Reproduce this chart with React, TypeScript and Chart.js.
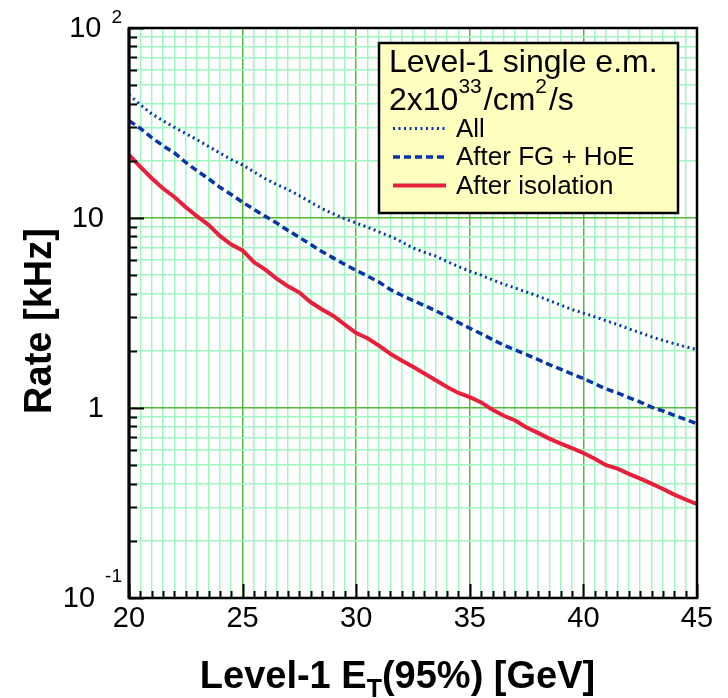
import React, { useEffect, useRef } from 'react';
import { Chart, registerables } from 'chart.js';

Chart.register(...registerables);

// Transverse energy threshold points [GeV]
const ET = [
  20, 20.5, 21, 21.5, 22, 22.5, 23, 23.5, 24, 24.5,
  25, 25.5, 26, 26.5, 27, 27.5, 28, 28.5, 29, 29.5,
  30, 30.5, 31, 31.5, 32, 32.5, 33, 33.5, 34, 34.5,
  35, 35.5, 36, 36.5, 37, 37.5, 38, 38.5, 39, 39.5,
  40, 40.5, 41, 41.5, 42, 42.5, 43, 43.5, 44, 44.5, 45,
];

// Level-1 single e.m. rates [kHz]
const rateAll = [
  44.5, 39.5, 35.3, 32.5, 30.0, 27.8, 25.8, 23.8, 22.0, 20.3,
  19.0, 17.5, 16.1, 15.0, 14.1, 13.1, 12.1, 11.2, 10.5, 9.9,
  9.4, 8.95, 8.45, 8.0, 7.5, 6.95, 6.6, 6.3, 5.9, 5.55,
  5.25, 5.0, 4.72, 4.48, 4.28, 4.08, 3.88, 3.68, 3.48, 3.3,
  3.16, 3.02, 2.88, 2.75, 2.61, 2.49, 2.37, 2.27, 2.18, 2.1, 2.03,
];

const rateFgHoe = [
  32.5, 29.6, 26.5, 24.0, 22.0, 19.6, 17.7, 16.1, 14.5, 13.3,
  12.1, 11.1, 10.2, 9.4, 8.6, 7.9, 7.25, 6.65, 6.15, 5.7,
  5.3, 4.95, 4.6, 4.2, 3.92, 3.68, 3.46, 3.25, 3.03, 2.82,
  2.63, 2.46, 2.29, 2.14, 2.02, 1.91, 1.80, 1.69, 1.60, 1.51,
  1.43, 1.34, 1.26, 1.20, 1.135, 1.075, 1.01, 0.965, 0.915, 0.87, 0.825,
];

const rateIsolation = [
  21.5, 18.6, 16.2, 14.3, 12.9, 11.4, 10.2, 9.2, 8.05, 7.25,
  6.75, 5.85, 5.35, 4.8, 4.37, 4.05, 3.6, 3.3, 3.05, 2.75,
  2.48, 2.33, 2.13, 1.93, 1.78, 1.65, 1.52, 1.40, 1.29, 1.20,
  1.14, 1.07, 0.98, 0.91, 0.86, 0.79, 0.74, 0.69, 0.65, 0.615,
  0.58, 0.54, 0.50, 0.48, 0.45, 0.425, 0.40, 0.375, 0.35, 0.33, 0.312,
];

const seriesLabels = ['All', 'After FG + HoE', 'After isolation'];

// Axis labelling
const xTickValues = [20, 25, 30, 35, 40, 45];
const xTickLabels = ['20', '25', '30', '35', '40', '45'];
const yTickValues = [0.1, 1, 10, 100];
const yTickBases = ['10', '1', '10', '10'];
const yTickExponents = ['-1', '', '', '2'];

const legendTitle = 'Level-1 single e.m.';
const luminosityParts = ['2x10', '33', '/cm', '2', '/s'];

const FONT = '"Liberation Sans", Arial, Helvetica, sans-serif';
const GRID_MINOR = '#9ff7c2';
const GRID_MAJOR = '#55b83c';
const BLUE = '#0835a8';
const RED = '#e8203c';

const isDecade = (v: number) =>
  Math.abs(Math.log10(v) - Math.round(Math.log10(v))) < 1e-6;
const isFive = (v: number) => Math.abs(v / 5 - Math.round(v / 5)) < 1e-6;

// grid positions: every 0.5 GeV, and 1..9 per decade
const xGrid: number[] = [];
for (let i = 0; i <= 50; i++) xGrid.push(20 + i * 0.5);
const yGrid: number[] = [];
for (let e = -1; e <= 1; e++) for (let s = 1; s <= 9; s++) yGrid.push(+(s * Math.pow(10, e)).toPrecision(6));
yGrid.push(100);

const decorations = {
  id: 'decorations',
  afterDatasetsDraw(chart: any) {
    const { ctx, chartArea: a } = chart;
    const x = chart.scales.x;
    const y = chart.scales.y;
    ctx.save();

    // inward tick marks
    ctx.strokeStyle = '#000';
    ctx.lineWidth = 2;
    xGrid.forEach((v) => {
      const px = Math.round(x.getPixelForValue(v)) + 0.5;
      const len = isFive(v) ? 14 : 7;
      ctx.beginPath();
      ctx.moveTo(px, a.bottom);
      ctx.lineTo(px, a.bottom - len);
      ctx.stroke();
    });
    yGrid.forEach((v) => {
      const py = Math.round(y.getPixelForValue(v)) + 0.5;
      const len = isDecade(v) ? 15 : 8;
      ctx.beginPath();
      ctx.moveTo(a.left, py);
      ctx.lineTo(a.left + len, py);
      ctx.stroke();
    });

    // frame
    ctx.lineWidth = 2.5;
    ctx.strokeRect(a.left, a.top, a.right - a.left, a.bottom - a.top);
    ctx.lineWidth = 3;
    ctx.beginPath();
    ctx.moveTo(a.left, a.top);
    ctx.lineTo(a.left, a.bottom);
    ctx.stroke();

    // x tick labels
    ctx.fillStyle = '#000';
    ctx.font = `29px ${FONT}`;
    ctx.textAlign = 'center';
    ctx.textBaseline = 'middle';
    xTickValues.forEach((v, i) => {
      ctx.fillText(xTickLabels[i], x.getPixelForValue(v), a.bottom + 21);
    });

    // y tick labels (powers of ten with exponents)
    yTickValues.forEach((v, i) => {
      const py = y.getPixelForValue(v);
      const exp = yTickExponents[i];
      let right = 104;
      if (exp) {
        ctx.font = `19px ${FONT}`;
        ctx.textAlign = 'right';
        ctx.textBaseline = 'alphabetic';
        const ew = ctx.measureText(exp).width;
        ctx.fillText(exp, 122, Math.max(py - 16, 23));
        right = 122 - ew - 10;
      }
      ctx.font = `29px ${FONT}`;
      ctx.textAlign = 'right';
      ctx.textBaseline = 'middle';
      ctx.fillText(yTickBases[i], right, py + 1);
    });

    // y axis title
    ctx.save();
    ctx.translate(50.5, 321);
    ctx.rotate(-Math.PI / 2);
    ctx.font = `bold 38px ${FONT}`;
    ctx.textAlign = 'center';
    ctx.textBaseline = 'alphabetic';
    ctx.fillText('Rate [kHz]', 0, 0);
    ctx.restore();

    // x axis title with subscript T
    const big = `bold 38px ${FONT}`;
    const small = `bold 25px ${FONT}`;
    const p1 = 'Level-1 E';
    const p2 = 'T';
    const p3 = '(95%) [GeV]';
    ctx.font = big;
    const w1 = ctx.measureText(p1).width;
    const w3 = ctx.measureText(p3).width;
    ctx.font = small;
    const w2 = ctx.measureText(p2).width;
    const total = w1 + w2 + w3;
    let tx = 397.5 - total / 2;
    const base = 688;
    ctx.textAlign = 'left';
    ctx.textBaseline = 'alphabetic';
    ctx.font = big;
    ctx.fillText(p1, tx, base);
    tx += w1;
    ctx.font = small;
    ctx.fillText(p2, tx, base + 9);
    tx += w2;
    ctx.font = big;
    ctx.fillText(p3, tx, base);

    // legend box
    const bx = 379, by = 43, bw = 299, bh = 170;
    ctx.fillStyle = '#ffffc0';
    ctx.fillRect(bx, by, bw, bh);
    ctx.lineWidth = 2.5;
    ctx.strokeStyle = '#000';
    ctx.strokeRect(bx, by, bw, bh);

    ctx.fillStyle = '#000';
    ctx.textAlign = 'left';
    ctx.textBaseline = 'alphabetic';
    ctx.font = `32px ${FONT}`;
    ctx.fillText(legendTitle, 389, 72);

    // luminosity line: 2x10^33/cm^2/s
    let lx = 389;
    luminosityParts.forEach((part, i) => {
      const sup = i % 2 === 1;
      ctx.font = sup ? `21px ${FONT}` : `32px ${FONT}`;
      ctx.fillText(part, lx, sup ? 93 : 110);
      lx += ctx.measureText(part).width + (sup ? 2 : 0);
    });

    const rows = [128.5, 157, 185.5];
    chart.data.datasets.forEach((ds: any, i: number) => {
      const ry = rows[i];
      ctx.strokeStyle = ds.borderColor;
      ctx.lineWidth = ds.borderWidth;
      ctx.setLineDash(ds.borderDash || []);
      ctx.beginPath();
      ctx.moveTo(393, ry);
      ctx.lineTo(446, ry);
      ctx.stroke();
      ctx.setLineDash([]);
      ctx.fillStyle = '#000';
      ctx.font = `26px ${FONT}`;
      ctx.textBaseline = 'middle';
      ctx.fillText(ds.label, 456, ry + 1);
    });

    ctx.restore();
  },
};

export default function App() {
  const canvasRef = useRef<HTMLCanvasElement | null>(null);

  useEffect(() => {
    if (!canvasRef.current) return;
    const chart = new Chart(canvasRef.current, {
      type: 'line',
      data: {
        datasets: [
          {
            label: seriesLabels[0],
            data: ET.map((e, i) => ({ x: e, y: rateAll[i] })),
            borderColor: BLUE,
            borderWidth: 3,
            borderDash: [2, 3.5],
            pointRadius: 0,
            tension: 0,
          },
          {
            label: seriesLabels[1],
            data: ET.map((e, i) => ({ x: e, y: rateFgHoe[i] })),
            borderColor: BLUE,
            borderWidth: 3.5,
            borderDash: [7, 4],
            pointRadius: 0,
            tension: 0,
          },
          {
            label: seriesLabels[2],
            data: ET.map((e, i) => ({ x: e, y: rateIsolation[i] })),
            borderColor: RED,
            borderWidth: 4,
            pointRadius: 0,
            tension: 0,
          },
        ],
      },
      options: {
        responsive: false,
        animation: false,
        devicePixelRatio: 1,
        layout: { padding: { top: 28, right: 31, left: 0, bottom: 0 } },
        plugins: { legend: { display: false }, tooltip: { enabled: false } },
        scales: {
          x: {
            type: 'linear',
            min: 20,
            max: 45,
            ticks: { display: false, autoSkip: false },
            afterBuildTicks: (s: any) => {
              s.ticks = xGrid.map((v) => ({ value: v }));
            },
            afterFit: (s: any) => {
              s.height = 100;
            },
            grid: {
              drawTicks: false,
              lineWidth: 1.5,
              color: (c: any) => (c.tick && isFive(c.tick.value) ? GRID_MAJOR : GRID_MINOR),
            },
            border: { display: false },
          },
          y: {
            type: 'logarithmic',
            min: 0.1,
            max: 100,
            ticks: { display: false, autoSkip: false },
            afterBuildTicks: (s: any) => {
              s.ticks = yGrid.map((v) => ({ value: v }));
            },
            afterFit: (s: any) => {
              s.width = 129;
            },
            grid: {
              drawTicks: false,
              lineWidth: 1.5,
              color: (c: any) => (c.tick && isDecade(c.tick.value) ? GRID_MAJOR : GRID_MINOR),
            },
            border: { display: false },
          },
        },
      },
      plugins: [decorations],
    });
    return () => chart.destroy();
  }, []);

  return (
    <div style={{ position: 'fixed', left: 0, top: 0, width: 728, height: 698, background: '#fff' }}>
      <canvas ref={canvasRef} width={728} height={698} />
    </div>
  );
}
